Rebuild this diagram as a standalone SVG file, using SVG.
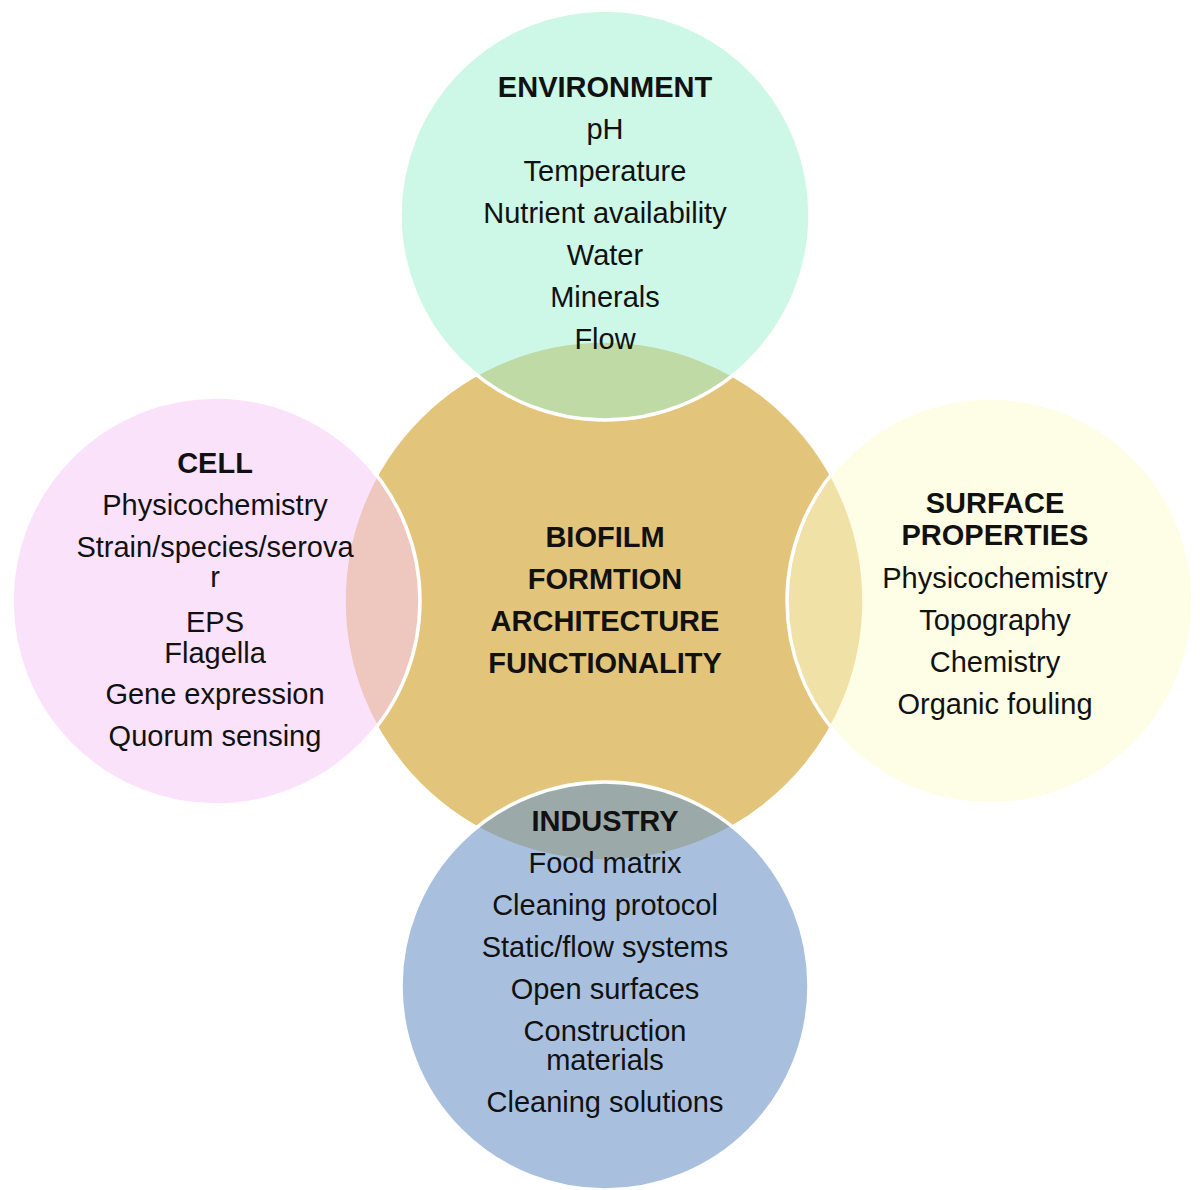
<svg xmlns="http://www.w3.org/2000/svg" width="1200" height="1190" viewBox="0 0 1200 1190">
  <style>
    .t { font-family: "Liberation Sans", Arial, sans-serif; font-size: 29px; fill: #111; text-anchor: middle; }
    .b { font-weight: bold; }
    .ring { stroke: #ffffff; stroke-width: 3.5; }
  </style>
  <rect width="1200" height="1190" fill="#ffffff"/>

  <!-- central circle -->
  <g id="core">
    <circle class="ring" cx="604" cy="601" r="260" fill="#e2c57b"/>
    <text class="t b" x="605" y="547">BIOFILM</text>
    <text class="t b" x="605" y="589">FORMTION</text>
    <text class="t b" x="605" y="631">ARCHITECTURE</text>
    <text class="t b" x="605" y="673">FUNCTIONALITY</text>
  </g>

  <!-- no connectors: factor circles overlap the core directly -->
  <g id="connectors"/>

  <g id="environment">
    <circle class="ring" cx="605" cy="215" r="205" fill="#9cf0cd" fill-opacity="0.5"/>
    <text class="t b" x="605" y="97">ENVIRONMENT</text>
    <text class="t" x="605" y="139">pH</text>
    <text class="t" x="605" y="181">Temperature</text>
    <text class="t" x="605" y="223">Nutrient availability</text>
    <text class="t" x="605" y="265">Water</text>
    <text class="t" x="605" y="307">Minerals</text>
    <text class="t" x="605" y="349">Flow</text>
  </g>

  <g id="cell">
    <circle class="ring" cx="216" cy="601" r="204" fill="#f7caf7" fill-opacity="0.55"/>
    <text class="t b" x="215" y="473">CELL</text>
    <text class="t" x="215" y="515">Physicochemistry</text>
    <text class="t" x="215" y="557">Strain/species/serova</text>
    <text class="t" x="215" y="587">r</text>
    <text class="t" x="215" y="632">EPS</text>
    <text class="t" x="215" y="663">Flagella</text>
    <text class="t" x="215" y="704">Gene expression</text>
    <text class="t" x="215" y="746">Quorum sensing</text>
  </g>

  <g id="surface">
    <circle class="ring" cx="990" cy="601" r="203" fill="#fefcce" fill-opacity="0.52"/>
    <text class="t b" x="995" y="513">SURFACE</text>
    <text class="t b" x="995" y="545">PROPERTIES</text>
    <text class="t" x="995" y="588">Physicochemistry</text>
    <text class="t" x="995" y="630">Topography</text>
    <text class="t" x="995" y="672">Chemistry</text>
    <text class="t" x="995" y="714">Organic fouling</text>
  </g>

  <g id="industry">
    <circle class="ring" cx="605" cy="986" r="204" fill="#6e96c8" fill-opacity="0.6"/>
    <text class="t b" x="605" y="831">INDUSTRY</text>
    <text class="t" x="605" y="873">Food matrix</text>
    <text class="t" x="605" y="915">Cleaning protocol</text>
    <text class="t" x="605" y="957">Static/flow systems</text>
    <text class="t" x="605" y="999">Open surfaces</text>
    <text class="t" x="605" y="1041">Construction</text>
    <text class="t" x="605" y="1070">materials</text>
    <text class="t" x="605" y="1112">Cleaning solutions</text>
  </g>
</svg>
